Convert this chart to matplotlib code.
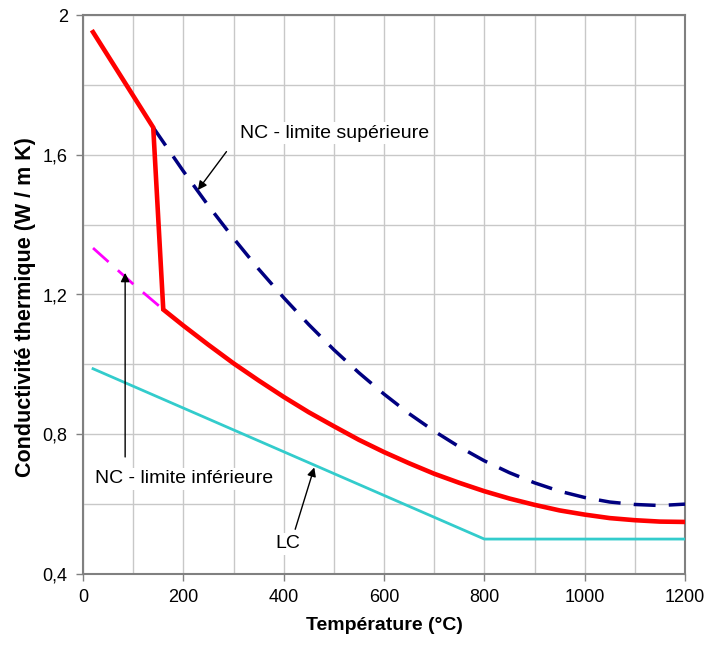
import matplotlib
matplotlib.use("Agg")
import matplotlib.pyplot as plt
from matplotlib.ticker import MultipleLocator, FuncFormatter

plt.rcParams['font.family'] = ['Liberation Sans', 'DejaVu Sans']

# NC upper limit
upper_T = [20, 140, 200, 250, 300, 350, 400, 450, 500, 550, 600, 650, 700, 750,
           800, 850, 900, 950, 1000, 1050, 1100, 1150, 1200]
upper_k = [1.951, 1.678, 1.553, 1.454, 1.361, 1.273, 1.191, 1.114, 1.042, 0.976,
           0.915, 0.859, 0.809, 0.764, 0.724, 0.690, 0.661, 0.637, 0.619, 0.606,
           0.599, 0.596, 0.600]

# NC lower limit
lower_T = [20, 100, 160, 200, 250, 300, 350, 400, 450, 500, 550, 600, 650, 700,
           750, 800, 850, 900, 950, 1000, 1050, 1100, 1150, 1200]
lower_k = [1.333, 1.230, 1.157, 1.111, 1.056, 1.003, 0.954, 0.907, 0.863, 0.823,
           0.784, 0.749, 0.717, 0.687, 0.661, 0.637, 0.616, 0.598, 0.582, 0.570,
           0.560, 0.554, 0.550, 0.549]

# LC
lc_T = [20, 800, 1200]
lc_k = [0.9875, 0.5, 0.5]

fig = plt.figure(figsize=(7.06, 6.46), dpi=100)
ax = fig.add_axes([83/706, 1-574/646, (685-83)/706, (574-15)/646])

# upper dashed (140 -> 1200)
ax.plot(upper_T[1:], upper_k[1:], color='#000080', lw=2.5, dashes=(6.3, 3.8), zorder=3)
# lower dashed magenta (20 -> 160)
ax.plot(lower_T[:3], lower_k[:3], color='#ff00ff', lw=2.0, dashes=(7.5, 4.5), zorder=3)
# LC
ax.plot(lc_T, lc_k, color='#33cccc', lw=2.0, zorder=3)
# red combined curve
red_T = upper_T[:2] + lower_T[2:]
red_k = upper_k[:2] + lower_k[2:]
ax.plot(red_T, red_k, color='#ff0000', lw=3.3, zorder=4, solid_joinstyle='miter')

ax.set_xlim(0, 1200)
ax.set_ylim(0.4, 2.0)
ax.xaxis.set_major_locator(MultipleLocator(200))
ax.xaxis.set_minor_locator(MultipleLocator(100))
ax.yaxis.set_major_locator(MultipleLocator(0.4))
ax.yaxis.set_minor_locator(MultipleLocator(0.2))
ax.yaxis.set_major_formatter(FuncFormatter(lambda v, p: ('%g' % round(v, 2)).replace('.', ',')))
ax.grid(which='both', color='#c8c8c8', lw=1.0, zorder=0)
ax.tick_params(which='major', length=5, width=1, color='#808080', labelsize=13, pad=6)
ax.tick_params(which='minor', length=0)
for s in ax.spines.values():
    s.set_color('#808080')
    s.set_linewidth(1.5)

ax.set_xlabel('Température (°C)', fontsize=14, fontweight='bold', labelpad=8)
ax.set_ylabel('Conductivité thermique (W / m K)', fontsize=15.5, fontweight='bold')
ax.yaxis.set_label_coords(-(83-36)/602, (574-307)/559)

bb = dict(facecolor='white', edgecolor='none', pad=2)
ap = dict(arrowstyle='-|>', color='black', lw=1.0, mutation_scale=13, shrinkA=0, shrinkB=0)

ax.text(313, 1.662, 'NC - limite supérieure', fontsize=14, ha='left', va='center', bbox=bb, zorder=5)
ax.annotate('', xy=(229, 1.499), xytext=(286, 1.609), arrowprops=ap, zorder=6)

ax.text(24, 0.672, 'NC - limite inférieure', fontsize=14, ha='left', va='center', bbox=bb, zorder=5)
ax.annotate('', xy=(84, 1.262), xytext=(84, 0.735), arrowprops=ap, zorder=6)

ax.text(383, 0.486, 'LC', fontsize=14, ha='left', va='center', bbox=bb, zorder=5)
ax.annotate('', xy=(461, 0.705), xytext=(423, 0.528), arrowprops=ap, zorder=6)

fig.savefig('out.png', dpi=100)
